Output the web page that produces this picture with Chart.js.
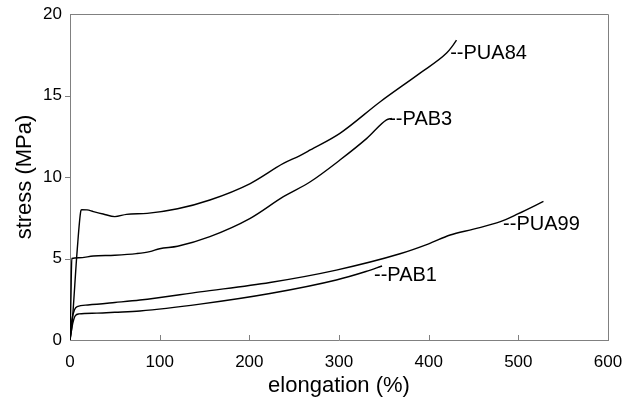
<!DOCTYPE html>
<html>
<head>
<meta charset="utf-8">
<script src="https://cdn.jsdelivr.net/npm/chart.js@4.4.0/dist/chart.umd.min.js"></script>
<style>
  html, body { margin: 0; padding: 0; background: #fff; }
  #wrap { width: 637px; height: 398px; }
</style>
</head>
<body>
<div id="wrap"><canvas id="myChart" width="637" height="398"></canvas></div>
<script>
// curve data (elongation %, stress MPa)
const pua84Elong  = [0, 2, 8, 12, 13, 19, 26, 37, 50, 63, 86, 120, 156, 201, 238, 256, 268, 301, 346, 390, 420, 426, 431];
const pua84Stress = [0, 0.8, 5.5, 7.9, 8.0, 7.98, 7.88, 7.73, 7.57, 7.71, 7.77, 8.05, 8.59, 9.6, 10.83, 11.3, 11.66, 12.68, 14.62, 16.36, 17.6, 18.0, 18.4];

const pab3Elong  = [0, 1, 2, 10, 26, 50, 74, 89, 100, 120, 156, 201, 238, 268, 301, 331, 353, 359];
const pab3Stress = [0, 2.5, 5.0, 5.05, 5.15, 5.2, 5.3, 5.42, 5.6, 5.75, 6.34, 7.46, 8.79, 9.71, 11.04, 12.37, 13.5, 13.6];

const pua99Elong  = [0, 2, 5, 8, 20, 50, 78, 145, 223, 297, 368, 400, 424, 450, 480, 500, 528];
const pua99Stress = [0, 1.2, 1.85, 2.05, 2.15, 2.3, 2.45, 2.95, 3.53, 4.29, 5.29, 5.9, 6.44, 6.8, 7.26, 7.75, 8.5];

const pab1Elong  = [0, 3, 6, 10, 30, 50, 78, 145, 223, 297, 330, 348];
const pab1Stress = [0, 1.0, 1.5, 1.6, 1.65, 1.7, 1.78, 2.2, 2.85, 3.68, 4.2, 4.54];

const seriesNames = ['PUA84', 'PAB3', 'PUA99', 'PAB1'];
const xTicks = [0, 100, 200, 300, 400, 500, 600];
const yTicks = [0, 5, 10, 15, 20];

const pts = (xs, ys) => xs.map((x, i) => ({ x: x, y: ys[i] }));

// where the "--NAME" notes sit, in data units
const notes = [
  { text: '--PUA84', x: 424, y: 17.55 },
  { text: '--PAB3', x: 356, y: 13.5 },
  { text: '--PUA99', x: 483, y: 7.1 },
  { text: '--PAB1', x: 339, y: 3.95 }
];

const frameColor = '#808080';
const fontFam = '"Liberation Sans", Arial, sans-serif';

// box, tick marks and the curve names
const decorPlugin = {
  id: 'decor',
  afterDraw(chart) {
    const ctx = chart.ctx;
    const a = chart.chartArea;
    const xs = chart.scales.x;
    const ys = chart.scales.y;
    ctx.save();
    ctx.strokeStyle = frameColor;
    ctx.lineWidth = 1;
    ctx.beginPath();
    ctx.moveTo(a.left, a.top + 0.5);
    ctx.lineTo(a.right + 0.5, a.top + 0.5);
    ctx.lineTo(a.right + 0.5, a.bottom);
    // x ticks point inward
    xTicks.slice(1, -1).forEach(v => {
      const px = Math.round(xs.getPixelForValue(v)) + 0.5;
      ctx.moveTo(px, a.bottom);
      ctx.lineTo(px, a.bottom - 5);
    });
    // y ticks point outward
    yTicks.slice(1, -1).forEach(v => {
      const py = Math.round(ys.getPixelForValue(v)) + 0.5;
      ctx.moveTo(a.left, py);
      ctx.lineTo(a.left - 5, py);
    });
    ctx.stroke();

    ctx.fillStyle = '#000';
    ctx.font = '20px ' + fontFam;
    ctx.textAlign = 'left';
    ctx.textBaseline = 'middle';
    notes.forEach(n => {
      ctx.fillText(n.text, xs.getPixelForValue(n.x), ys.getPixelForValue(n.y));
    });
    ctx.restore();
  }
};

const lineStyle = {
  borderColor: '#000',
  borderWidth: 1.4,
  pointRadius: 0,
  fill: false,
  cubicInterpolationMode: 'monotone'
};

const ctx = document.getElementById('myChart').getContext('2d');
new Chart(ctx, {
  type: 'line',
  data: {
    datasets: [
      { label: seriesNames[0], data: pts(pua84Elong, pua84Stress), ...lineStyle },
      { label: seriesNames[1], data: pts(pab3Elong, pab3Stress), ...lineStyle },
      { label: seriesNames[2], data: pts(pua99Elong, pua99Stress), ...lineStyle },
      { label: seriesNames[3], data: pts(pab1Elong, pab1Stress), ...lineStyle }
    ]
  },
  options: {
    responsive: false,
    animation: false,
    layout: { padding: { left: 11, top: 14, right: 29, bottom: 0 } },
    plugins: {
      legend: { display: false },
      tooltip: { enabled: false }
    },
    scales: {
      x: {
        type: 'linear',
        min: 0,
        max: 600,
        afterBuildTicks: s => { s.ticks = xTicks.map(v => ({ value: v })); },
        afterFit: s => { s.height = 58; s.paddingLeft = 0; s.paddingRight = 0; },
        grid: { display: false, drawTicks: false },
        border: { display: true, color: frameColor, width: 1 },
        ticks: {
          color: '#000',
          padding: 12,
          maxRotation: 0,
          font: { family: fontFam, size: 17 }
        },
        title: {
          display: true,
          text: 'elongation (%)',
          color: '#000',
          padding: { top: 0, bottom: -1 },
          font: { family: fontFam, size: 22 }
        }
      },
      y: {
        type: 'linear',
        min: 0,
        max: 20,
        afterBuildTicks: s => { s.ticks = yTicks.map(v => ({ value: v })); },
        afterFit: s => { s.width = 59; s.paddingTop = 0; s.paddingBottom = 0; },
        grid: { display: false, drawTicks: false },
        border: { display: true, color: frameColor, width: 1 },
        ticks: {
          color: '#000',
          padding: 8,
          font: { family: fontFam, size: 17 }
        },
        title: {
          display: true,
          text: 'stress (MPa)',
          color: '#000',
          padding: 1,
          font: { family: fontFam, size: 22 }
        }
      }
    }
  },
  plugins: [decorPlugin]
});
</script>
</body>
</html>
